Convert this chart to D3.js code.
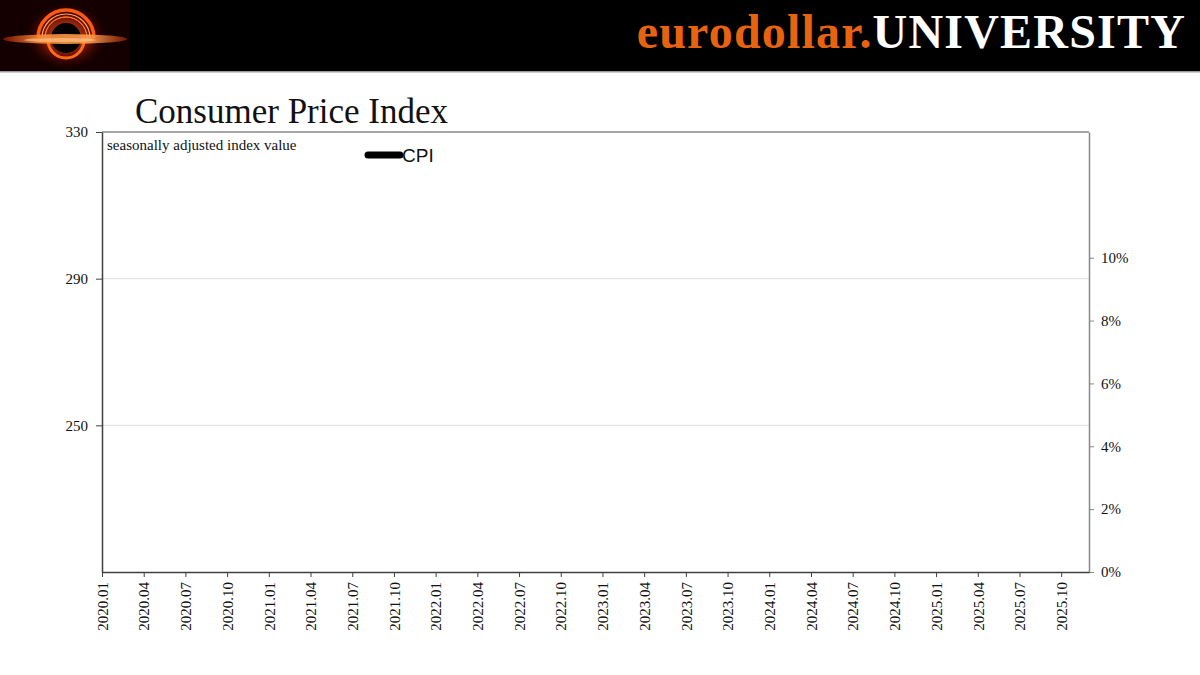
<!DOCTYPE html>
<html>
<head>
<meta charset="utf-8">
<script src="https://cdn.jsdelivr.net/npm/d3@7"></script>
<style>
  html, body { margin: 0; padding: 0; background: #fff; }
  svg { display: block; }
</style>
</head>
<body>
<div id="chart"></div>
<script>
// CPI chart — index value (left) and y/y rate (right), monthly 2020.01..2025.12
const months = [];
for (let y = 2020; y <= 2025; y++) for (let m = 1; m <= 12; m++) months.push(`${y}.${String(m).padStart(2, "0")}`);
const xTickLabels = [
  "2020.01","2020.04","2020.07","2020.10","2021.01","2021.04","2021.07","2021.10",
  "2022.01","2022.04","2022.07","2022.10","2023.01","2023.04","2023.07","2023.10",
  "2024.01","2024.04","2024.07","2024.10","2025.01","2025.04","2025.07","2025.10"
];
const leftTicks = [250, 290, 330];
const rightTicks = [0, 2, 4, 6, 8, 10];
const cpiValues = []; // no series drawn in the reference
const seriesNames = ["CPI"];

const W = 1200, H = 675;
const margin = { top: 132, right: 111, bottom: 103, left: 102 };
const svg = d3.select("#chart").append("svg").attr("width", W).attr("height", H);
const serif = "'Liberation Serif', 'Times New Roman', serif";

// header band
svg.append("rect").attr("x", 0).attr("y", 0).attr("width", W).attr("height", 71).attr("fill", "#000");
svg.append("rect").attr("x", 0).attr("y", 71).attr("width", W).attr("height", 1.5).attr("fill", "#9a9a9a");

// logo (black hole)
const defs = svg.append("defs");
const glow = defs.append("radialGradient").attr("id", "glow");
glow.append("stop").attr("offset", "0%").attr("stop-color", "#ff7a2a").attr("stop-opacity", 0.9);
glow.append("stop").attr("offset", "55%").attr("stop-color", "#c2260a").attr("stop-opacity", 0.55);
glow.append("stop").attr("offset", "100%").attr("stop-color", "#2a0000").attr("stop-opacity", 0);
const disk = defs.append("linearGradient").attr("id", "disk").attr("x1", "0%").attr("x2", "100%");
disk.append("stop").attr("offset", "0%").attr("stop-color", "#7a1500");
disk.append("stop").attr("offset", "30%").attr("stop-color", "#ff8a3a");
disk.append("stop").attr("offset", "70%").attr("stop-color", "#ffa050");
disk.append("stop").attr("offset", "100%").attr("stop-color", "#7a1500");
const logo = svg.append("g");
logo.append("rect").attr("width", 130).attr("height", 71).attr("fill", "#140000");
logo.append("ellipse").attr("cx", 66).attr("cy", 36).attr("rx", 42).attr("ry", 34).attr("fill", "url(#glow)");
// upper arcs
[[28, "#ff5a10", 3.5], [24, "#ffa060", 1.2], [21, "#ff7a2a", 1]].forEach(([r, c, w]) => {
  logo.append("path").attr("d", d3.arc()({ innerRadius: r, outerRadius: r, startAngle: -Math.PI / 2, endAngle: Math.PI / 2 }))
    .attr("transform", "translate(66,38)").attr("fill", "none").attr("stroke", c).attr("stroke-width", w);
});
// lower ring
logo.append("path").attr("d", d3.arc()({ innerRadius: 18, outerRadius: 18, startAngle: Math.PI / 2, endAngle: 3 * Math.PI / 2 }))
  .attr("transform", "translate(66,40)").attr("fill", "none").attr("stroke", "#ff6a1a").attr("stroke-width", 3);
logo.append("circle").attr("cx", 66).attr("cy", 38).attr("r", 15).attr("fill", "#050000");
logo.append("ellipse").attr("cx", 65).attr("cy", 39).attr("rx", 62).attr("ry", 5).attr("fill", "url(#disk)").attr("opacity", 0.9);
logo.append("ellipse").attr("cx", 60).attr("cy", 40).attr("rx", 36).attr("ry", 2).attr("fill", "#ffd090").attr("opacity", 0.6);

// brand
const brand = svg.append("text").attr("x", 1186).attr("y", 48).attr("text-anchor", "end")
  .attr("font-family", serif).attr("font-weight", 700).attr("font-size", 48).attr("letter-spacing", 1.2);
brand.append("tspan").attr("fill", "#e8630f").text("eurodollar.");
brand.append("tspan").attr("fill", "#fff").text("UNIVERSITY");

// title
svg.append("text").attr("x", 135).attr("y", 123).attr("font-family", serif).attr("font-size", 35)
  .attr("fill", "#111").text("Consumer Price Index");

const x0 = margin.left, x1 = W - margin.right, y0 = margin.top, y1 = H - margin.bottom;
const x = d3.scaleLinear().domain([0, months.length - 1]).range([x0, x1]);
const yL = d3.scaleLinear().domain([210, 330]).range([y1, y0]);
const yR = d3.scaleLinear().domain([0, 14]).range([y1, y0]);

// grid
svg.append("g").selectAll("line").data(leftTicks.filter(d => d < 330)).join("line")
  .attr("x1", x0).attr("x2", x1).attr("y1", d => yL(d)).attr("y2", d => yL(d))
  .attr("stroke", "#e0e0e0").attr("stroke-width", 1);

// frame top in gray
svg.append("line").attr("x1", x0).attr("x2", x1).attr("y1", y0).attr("y2", y0).attr("stroke", "#888").attr("stroke-width", 1.5);

// axes
const styleAxis = (g, col) => {
  g.select(".domain").attr("stroke", col).attr("stroke-width", 1.5);
  g.selectAll(".tick line").attr("stroke", col).attr("stroke-width", 1);
  g.selectAll(".tick text").attr("font-family", serif).attr("font-size", 15).attr("fill", "#111");
};
svg.append("g").attr("transform", `translate(${x1},0)`)
  .call(d3.axisRight(yR).tickValues(rightTicks).tickSize(5).tickSizeOuter(0).tickPadding(7).tickFormat(d => d + "%"))
  .call(g => styleAxis(g, "#888"));
svg.append("g").attr("transform", `translate(${x0},0)`)
  .call(d3.axisLeft(yL).tickValues(leftTicks).tickSize(6).tickSizeOuter(0).tickPadding(8))
  .call(g => styleAxis(g, "#404040"));
const idx = s => months.indexOf(s);
svg.append("g").attr("transform", `translate(0,${y1})`)
  .call(d3.axisBottom(x).tickValues(xTickLabels.map(idx)).tickSize(5).tickSizeOuter(0).tickFormat(i => months[i]))
  .call(g => styleAxis(g, "#404040"))
  .call(g => g.selectAll(".tick text").attr("font-size", 15)
    .attr("transform", "rotate(-90)").attr("text-anchor", "end")
    .attr("x", -10).attr("y", 0).attr("dy", "0.35em"));

// series (empty in the reference)
const line = d3.line().x((d, i) => x(i)).y(d => yL(d));
svg.append("path").datum(cpiValues).attr("d", line).attr("fill", "none").attr("stroke", "#000").attr("stroke-width", 3);

// annotations & legend
svg.append("text").attr("x", 107).attr("y", 150).attr("font-family", serif).attr("font-size", 15)
  .attr("fill", "#111").text("seasonally adjusted index value");
const lg = svg.append("g").selectAll("g").data(seriesNames).join("g").attr("transform", (d, i) => `translate(368,${155 + i * 22})`);
lg.append("line").attr("x1", 0).attr("x2", 32).attr("stroke", "#000").attr("stroke-width", 7).attr("stroke-linecap", "round");
lg.append("text").attr("x", 34).attr("y", 7).attr("font-family", "'Liberation Sans', Arial, sans-serif")
  .attr("font-size", 19).attr("fill", "#111").text(d => d);
</script>
</body>
</html>
